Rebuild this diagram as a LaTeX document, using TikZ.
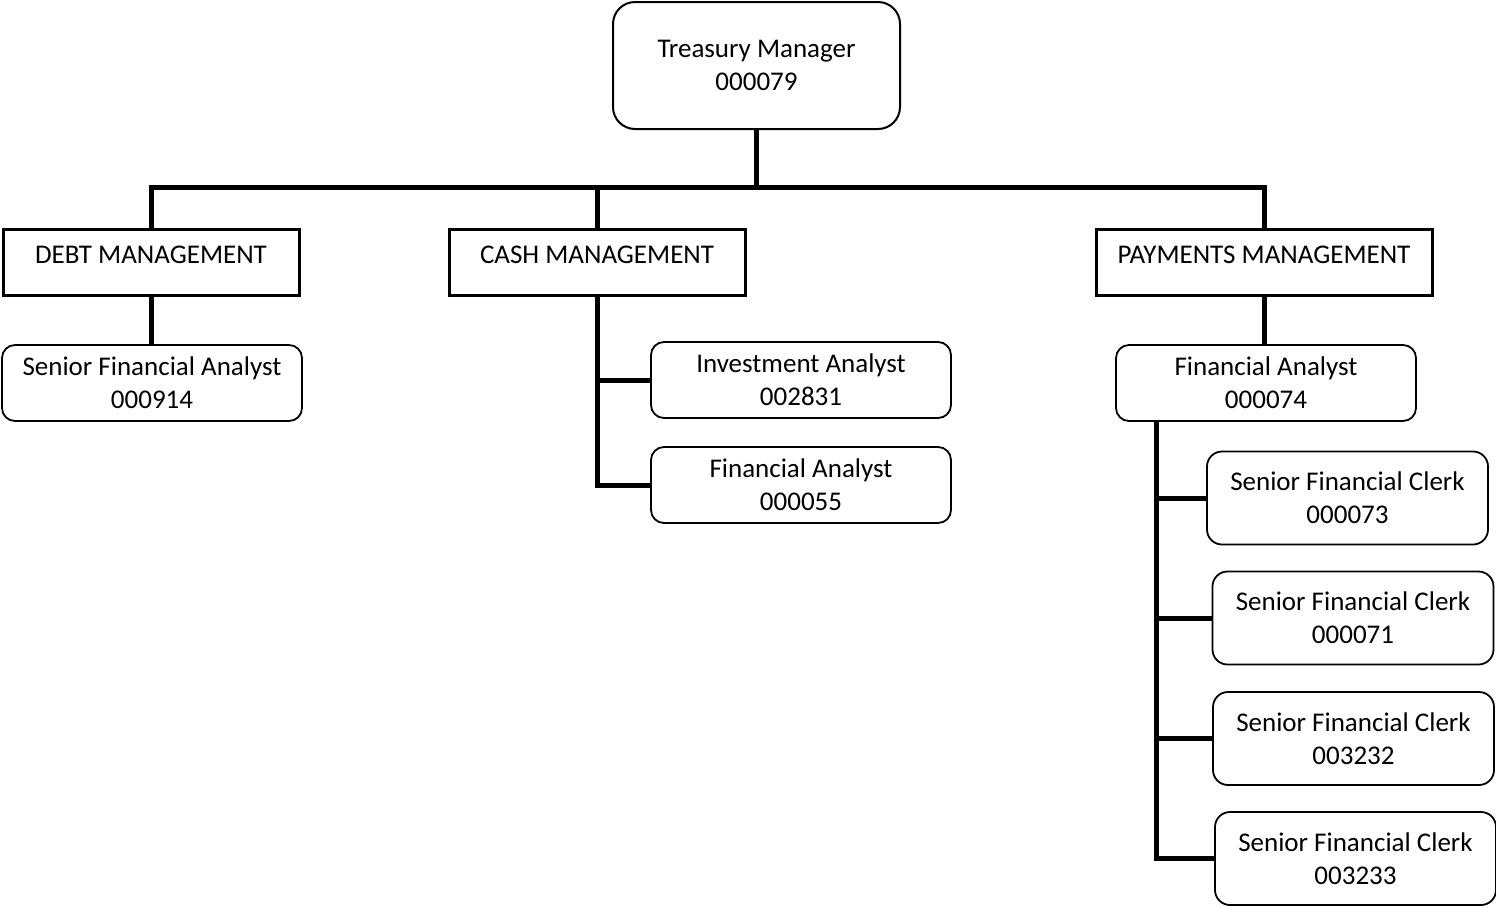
\documentclass[tikz,border=0pt]{standalone}
\usepackage{fontspec}
\setmainfont{Carlito}
\begin{document}
\begin{tikzpicture}[x=1pt,y=-1pt,
  every node/.style={font=\fontsize{27}{33}\selectfont, align=center, inner sep=0pt},
  topbox/.style={draw, line width=2pt, rounded corners=22pt, minimum width=287pt, minimum height=127pt},
  mgmt/.style={draw, line width=3pt, minimum height=66pt, text depth=14pt},
  rbox/.style={draw, line width=1.8pt, rounded corners=13pt, minimum width=300pt, minimum height=76pt},
  cbox/.style={draw, line width=1.8pt, rounded corners=15pt, minimum width=281pt, minimum height=93pt},
  conn/.style={line width=5pt}]
\useasboundingbox (0,0) rectangle (1496,906);
\node[topbox] (tm) at (756.5,65.5) {Treasury Manager\\000079};
\node[mgmt, minimum width=296pt] (debt) at (151,262) {DEBT MANAGEMENT};
\node[mgmt, minimum width=296pt] (cash) at (597,262) {CASH MANAGEMENT};
\node[mgmt, minimum width=336pt] (pay) at (1264,262) {PAYMENTS MANAGEMENT};
\node[rbox] (sfa) at (152,383) {Senior Financial Analyst\\000914};
\node[rbox] (ia) at (801,380) {Investment Analyst\\002831};
\node[rbox] (fa55) at (801,485) {Financial Analyst\\000055};
\node[rbox] (fa74) at (1266,383) {Financial Analyst\\000074};
\node[cbox] (c73) at (1347.5,498) {Senior Financial Clerk\\000073};
\node[cbox] (c71) at (1353,618) {Senior Financial Clerk\\000071};
\node[cbox] (c3232) at (1353.5,738.5) {Senior Financial Clerk\\003232};
\node[cbox] (c3233) at (1355.5,858.5) {Senior Financial Clerk\\003233};
\coordinate (bus) at (756.5,187);
\draw[conn] (tm.south) -- (bus);
\draw[conn] (debt.north) |- (bus) -| (pay.north);
\draw[conn] (cash.north) -- (cash.north |- bus);
\draw[conn] (debt.south) -- (debt.south |- sfa.north);
\draw[conn] (cash.south) |- (fa55.west);
\draw[conn] (ia.west) -- (ia.west -| cash.south);
\draw[conn] (pay.south) -- (pay.south |- fa74.north);
\coordinate (v) at ([xshift=41pt]fa74.south west);
\draw[conn] (v) |- (c3233.west);
\draw[conn] (c73.west) -- (c73.west -| v);
\draw[conn] (c71.west) -- (c71.west -| v);
\draw[conn] (c3232.west) -- (c3232.west -| v);
\end{tikzpicture}
\end{document}
